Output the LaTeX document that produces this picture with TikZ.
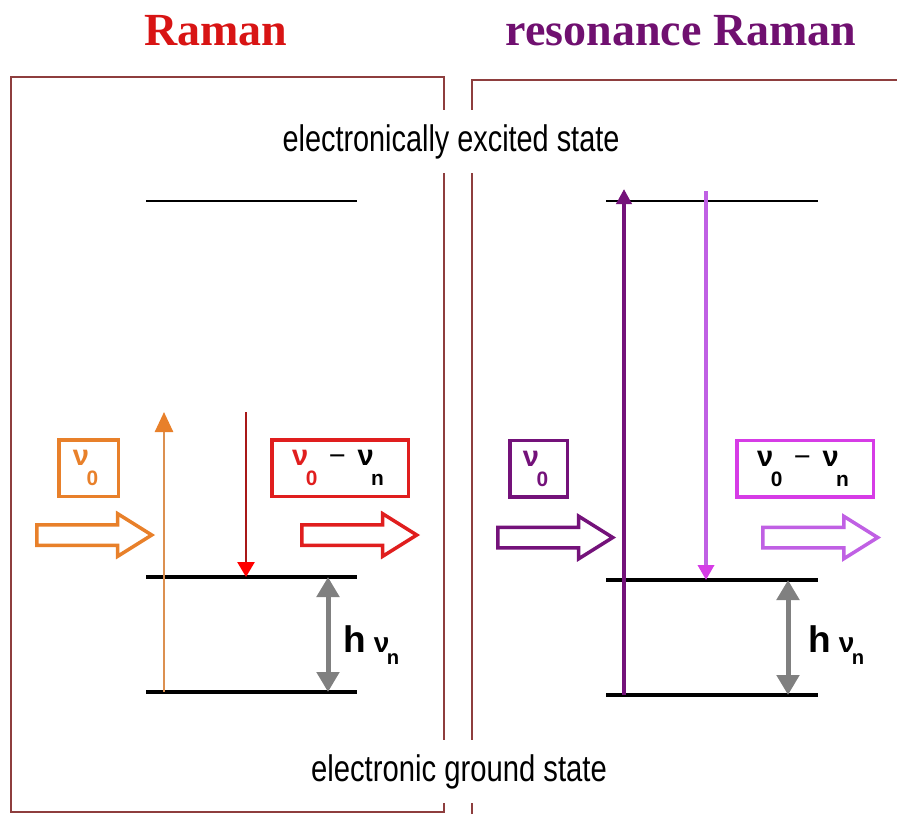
\documentclass[tikz,border=0pt]{standalone}
\usepackage{fontspec}
\setmainfont{Liberation Sans}
\newfontfamily\titlefont{Liberation Serif}
\usepackage{xcolor}
\usetikzlibrary{arrows.meta,shapes.arrows}

\definecolor{ramanred}{HTML}{D81414}
\definecolor{rrpurple}{HTML}{701070}
\definecolor{framered}{HTML}{8E3E3E}
\definecolor{laserorange}{HTML}{E8802A}
\definecolor{orangeline}{HTML}{DC9050}
\definecolor{stokesred}{HTML}{E01E1E}
\definecolor{darkred}{HTML}{A81818}
\definecolor{laserpurple}{HTML}{74127A}
\definecolor{stokesmag}{HTML}{D63CE6}
\definecolor{lightmag}{HTML}{C060E4}

\newcommand{\nusub}[2][-0.69em]{ν\kern-2.5pt\raisebox{#1}{\scalebox{0.72}{#2}}}
\newcommand{\shiftminus}{\hspace{0.4em}{\mdseries −}\hspace{0.4em}}

\begin{document}
\begin{tikzpicture}[
  x=1pt, y=-1pt,
  title/.style={font=\titlefont\bfseries\fontsize{46}{50}\selectfont},
  state/.style={fill=white, inner xsep=6pt, inner ysep=14pt, anchor=base, font=\fontsize{37}{40}\selectfont},
  level/.style={line width=4pt},
  vlevel/.style={line width=2.2pt},
  freqbox/.style={draw, line width=3.5pt, inner sep=0pt, minimum height=56.5pt, font=\bfseries\fontsize{29}{30}\selectfont},
  beam/.style={single arrow, draw, line width=3.5pt, fill=white, anchor=tail, inner xsep=0pt, inner ysep=8.5pt, minimum height=115pt, single arrow head extend=11pt, single arrow tip angle=64},
  gap/.style={gray, line width=5pt, {Triangle[length=20pt,width=22pt]}-{Triangle[length=20pt,width=22pt]}},
  energy/.style={anchor=base west, font=\bfseries\fontsize{28}{30}\selectfont}
]
\useasboundingbox (0,0) rectangle (897,814);

\draw[framered, line width=1.5pt] (11,77) rectangle (444,812);
\draw[framered, line width=1.5pt] (472,814) -- (472,80) -- (897,80);

\node[title, text=ramanred] (ramantitle) at (216,31) {Raman};
\node[title, text=rrpurple] (rrtitle) at (681,31) {resonance Raman};

\node[state] (excited) at (451,151) {\scalebox{0.78}[1]{electronically excited state}};
\node[state] (ground) at (459,781) {\scalebox{0.79}[1]{electronic ground state}};

% normal Raman
\draw[vlevel] (146,201) -- (357,201);
\draw[level] (146,577) coordinate (lv1) -- (357,577);
\draw[level] (146,692) coordinate (lv0) -- (357,692);
\coordinate (lvirt-up) at (164,412);
\coordinate (lvirt-down) at (246,412);
\coordinate (lv1-in) at (246,577);
\draw[orangeline, line width=2.6pt, -{Triangle[length=20pt,width=18pt,color=laserorange]}] (164,692) -- (lvirt-up);
\draw[darkred, line width=2.6pt, -{Triangle[length=15pt,width=17pt,color=red]}] (lvirt-down) -- (lv1-in);
\coordinate (lgap-top) at (328,577);
\coordinate (lgap-bot) at (328,692);
\draw[gap] (lgap-top) -- (lgap-bot);
\node[energy] (lhnu) at (340,652) {{\fontsize{37}{40}\selectfont h} \nusub[-0.45em]{n}};

\node[freqbox, draw=laserorange, text=laserorange, minimum width=59.5pt] (lnu0) at (88.5,468) {\nusub{0}\kern6pt};
\node[freqbox, draw=stokesred, minimum width=136.5pt] (lnus) at (340,468) {\textcolor{stokesred}{\nusub{0}}\shiftminus\nusub{n}\kern4pt};
\node[beam, draw=laserorange] (lbeamin) at (35,535) {};
\node[beam, draw=stokesred] (lbeamout) at (300,535) {};

% resonance Raman
\draw[vlevel] (606,201) -- (818,201);
\draw[level] (606,580) -- (818,580);
\draw[level] (606,695) -- (818,695);
\coordinate (rground) at (624,695);
\coordinate (rexc-up) at (624,189);
\coordinate (rexc-down) at (706,191);
\coordinate (rv1-in) at (706,580);
\draw[laserpurple, line width=4.5pt, -{Triangle[length=15pt,width=15pt]}] (rground) -- (rexc-up);
\draw[lightmag, line width=3.5pt, -{Triangle[length=15pt,width=16pt,color=stokesmag]}] (rexc-down) -- (rv1-in);
\coordinate (rgap-top) at (788,580);
\coordinate (rgap-bot) at (788,695);
\draw[gap] (rgap-top) -- (rgap-bot);
\node[energy] (rhnu) at (805,652) {{\fontsize{37}{40}\selectfont h} \nusub[-0.45em]{n}};

\node[freqbox, draw=laserpurple, text=laserpurple, minimum width=57.5pt] (rnu0) at (538.5,468.5) {\nusub{0}\kern6pt};
\node[freqbox, draw=stokesmag, minimum width=136.5pt] (rnus) at (805,468.5) {\nusub{0}\shiftminus\nusub{n}\kern4pt};
\node[beam, draw=laserpurple] (rbeamin) at (496,537.5) {};
\node[beam, draw=lightmag] (rbeamout) at (761,537.5) {};
\end{tikzpicture}
\end{document}
